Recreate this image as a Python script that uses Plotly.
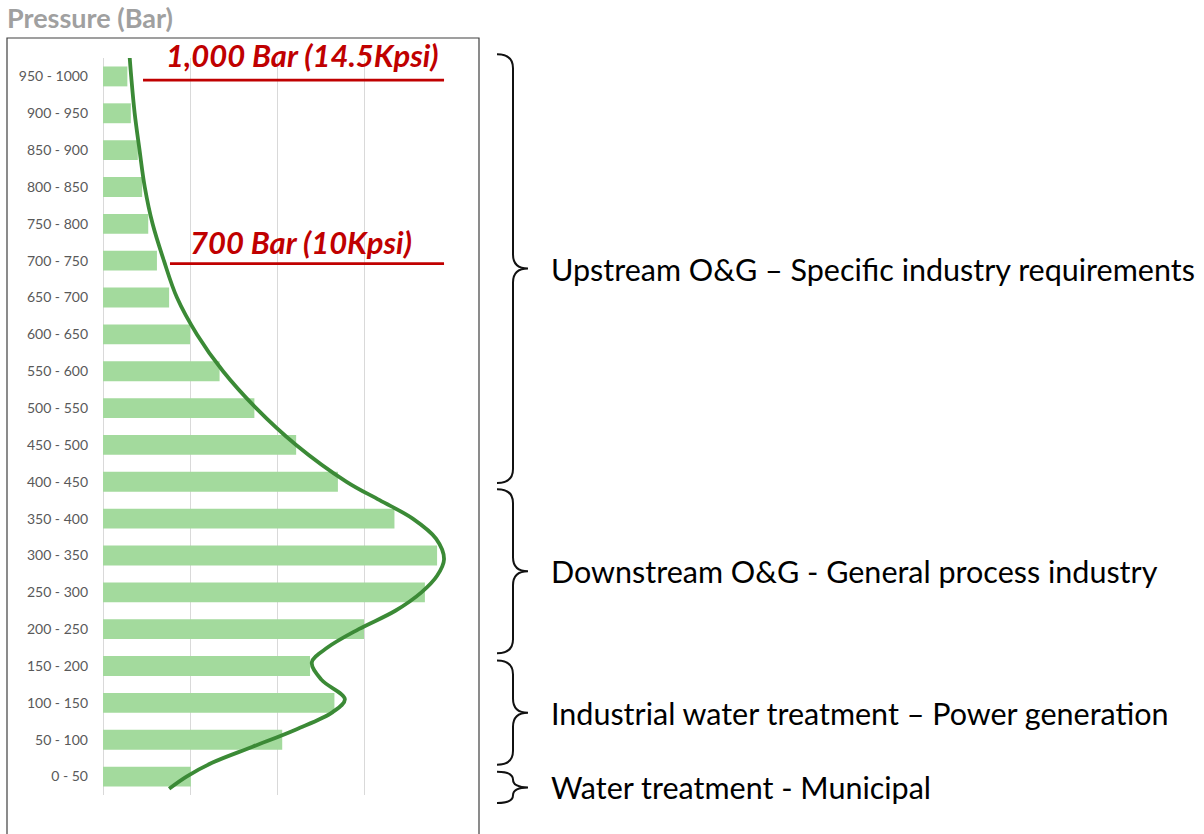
import plotly.graph_objects as go

# ---------------- data ----------------
categories = ["0 - 50", "50 - 100", "100 - 150", "150 - 200", "200 - 250",
              "250 - 300", "300 - 350", "350 - 400", "400 - 450", "450 - 500",
              "500 - 550", "550 - 600", "600 - 650", "650 - 700", "700 - 750",
              "750 - 800", "800 - 850", "850 - 900", "900 - 950", "950 - 1000"]
bar_values = [5.05, 10.3, 13.3, 11.9, 15.0, 18.5, 19.2, 16.75, 13.5, 11.1,
              8.7, 6.7, 5.0, 3.8, 3.1, 2.6, 2.25, 2.0, 1.6, 1.4]

# trend curve (x = value, y = category position)
curve_y = [19.54, 19.0, 18.0, 17.0, 16.0, 15.0, 14.0, 13.0, 12.0, 11.0, 10.0, 9.0,
           8.0, 7.5, 7.0, 6.45, 5.9, 5.45, 5.0, 4.5, 4.0, 3.5, 3.1, 2.63, 2.1,
           1.75, 1.28, 0.81, 0.38, 0.0, -0.33]
curve_x = [1.53, 1.62, 1.82, 2.1, 2.4, 2.85, 3.5, 4.25, 5.4, 6.9, 8.8, 11.1,
           14.0, 15.9, 17.8, 19.15, 19.6, 19.2, 18.3, 16.8, 14.7, 12.9, 12.0, 12.55, 13.9,
           13.2, 11.1, 8.6, 6.3, 4.8, 3.8]

# pressure thresholds: label, category position of line, line start value, label anchor
threshold_labels = ["1,000 Bar (14.5Kpsi)", "700 Bar (10Kpsi)"]
threshold_pos = [18.9, 13.92]
threshold_start = [2.3, 3.85]
threshold_label_x = [19.4, 17.9]
threshold_label_y = [19.57, 14.5]

# application groups: label, low position, high position
group_labels = ["Upstream O&G \u2013 Specific industry requirements",
                "Downstream O&G - General process industry",
                "Industrial water treatment \u2013 Power generation",
                "Water treatment - Municipal"]
group_low = [7.97, 3.35, 0.32, -0.72]
group_high = [19.6, 7.8, 3.15, 0.13]

# ---------------- layout geometry ----------------
W, H = 1204, 834
L, R, T, B = 103, 753, 58, 39
PW, PH = W - L - R, H - T - B
YMIN, YMAX = -0.5, 19.5
XMAX = 20


def px_x(px):
    return (px - L) / PW


def px_y(py):
    return (H - B - py) / PH


def pos_y(p):
    return (p - YMIN) / (YMAX - YMIN)


fig = go.Figure()

fig.add_trace(go.Bar(
    x=bar_values, y=list(range(len(categories))), orientation="h",
    marker=dict(color="#A3DA9D", line=dict(width=0)), width=0.54,
    hoverinfo="skip", showlegend=False))

fig.add_trace(go.Scatter(
    x=curve_x, y=curve_y, mode="lines",
    line=dict(color="#3B8A36", width=3.8, shape="spline", smoothing=1.0),
    hoverinfo="skip", showlegend=False))

shapes = []
annotations = []

# frame
shapes.append(dict(type="rect", xref="paper", yref="paper",
                   x0=px_x(7), x1=px_x(479), y0=px_y(860), y1=px_y(38),
                   line=dict(color="#404040", width=1.2), fillcolor="rgba(0,0,0,0)"))

# thresholds
for lab, p, s, lx, ly in zip(threshold_labels, threshold_pos, threshold_start,
                             threshold_label_x, threshold_label_y):
    shapes.append(dict(type="line", xref="x", yref="y", x0=s, x1=19.6, y0=p, y1=p,
                       line=dict(color="#C00000", width=2.6)))
    annotations.append(dict(text=lab, xref="paper", yref="paper",
                            x=lx / XMAX, y=pos_y(ly), xanchor="right", yanchor="middle",
                            showarrow=False,
                            font=dict(family="Lato", size=31, color="#C00000",
                                      weight="bold", style="italic")))

# braces and group labels
x0b, xsb, xtb = px_x(497), px_x(513), px_x(528)
for lab, lo, hi in zip(group_labels, group_low, group_high):
    top, bot = pos_y(hi), pos_y(lo)
    mid = (top + bot) / 2
    r = min(14 / PH, (top - bot) / 4)
    path = (f"M {x0b},{top} Q {xsb},{top} {xsb},{top - r} "
            f"L {xsb},{mid + r} Q {xsb},{mid} {xtb},{mid} "
            f"Q {xsb},{mid} {xsb},{mid - r} "
            f"L {xsb},{bot + r} Q {xsb},{bot} {x0b},{bot}")
    shapes.append(dict(type="path", xref="paper", yref="paper", path=path,
                       line=dict(color="#111111", width=2)))
    annotations.append(dict(text=lab, xref="paper", yref="paper",
                            x=px_x(549), y=mid, xanchor="left", yanchor="middle",
                            showarrow=False,
                            font=dict(family="Lato", size=30.5, color="#000000")))

fig.update_layout(
    width=W, height=H,
    margin=dict(l=L, r=R, t=T, b=B, autoexpand=False),
    paper_bgcolor="white", plot_bgcolor="white",
    title=dict(text="<b>Pressure (Bar)</b>", x=7 / W, xanchor="left", xref="container",
               y=1 - 19 / H, yref="container", yanchor="middle",
               font=dict(family="Lato", size=27, color="#A0A0A0")),
    xaxis=dict(range=[0, XMAX], dtick=5, showgrid=True, gridcolor="#D9D9D9", gridwidth=1,
               zeroline=True, zerolinecolor="#D9D9D9", zerolinewidth=1,
               showticklabels=False, showline=False, fixedrange=True),
    yaxis=dict(range=[YMIN, YMAX], tickmode="array",
               tickvals=list(range(len(categories))), ticktext=categories,
               showgrid=False, zeroline=False, showline=False,
               ticks="", ticklabelstandoff=14,
               tickfont=dict(family="Lato", size=14, color="#595959"), fixedrange=True),
    shapes=shapes, annotations=annotations,
    bargap=0.46,
)

fig.write_html("out.html", config={"displayModeBar": False},
               post_script="document.body.style.margin='0';")
